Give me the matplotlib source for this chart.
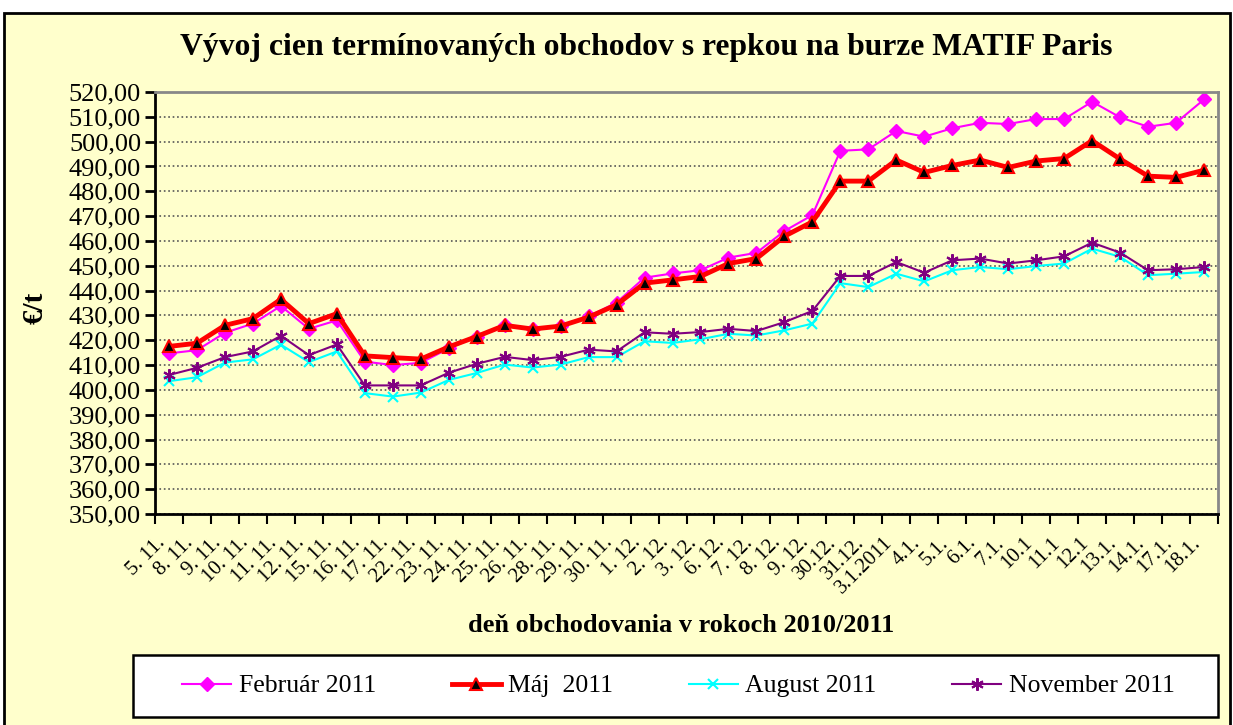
import numpy as np
import matplotlib.pyplot as plt
from matplotlib.patches import Rectangle

plt.rcParams['font.family'] = ['Liberation Serif', 'DejaVu Serif']

# trading days (category labels)
days = ["5. 11.", "8. 11.", "9. 11.", "10. 11.", "11. 11.", "12. 11.", "15. 11.",
        "16. 11.", "17. 11.", "22. 11.", "23. 11.", "24. 11.", "25. 11.", "26. 11.",
        "28. 11.", "29. 11.", "30. 11.", "1. 12.", "2. 12.", "3. 12.", "6. 12.",
        "7. 12.", "8. 12.", "9. 12.", "30.12.", "31.12.", "3.1.2011", "4.1.",
        "5.1.", "6.1.", "7.1.", "10.1", "11.1", "12.1", "13.1.", "14.1.",
        "17.1.", "18.1."]

februar = [414.7, 416.0, 423.0, 426.7, 433.8, 424.6, 428.0, 411.4, 410.0, 410.9,
           416.7, 421.5, 426.0, 424.6, 425.7, 429.6, 435.2, 445.2, 446.9, 448.2,
           453.3, 455.2, 464.0, 470.4, 496.3, 496.9, 504.3, 502.0, 505.4, 507.6,
           507.1, 509.1, 509.1, 516.1, 509.8, 506.0, 507.6, 517.0]

maj = [417.5, 418.8, 426.0, 428.7, 436.5, 426.7, 430.7, 413.7, 413.0, 412.4,
       417.3, 421.5, 426.0, 424.5, 425.7, 429.3, 434.3, 443.0, 444.3, 445.7,
       450.9, 452.9, 461.9, 467.7, 484.1, 484.1, 492.6, 487.6, 490.4, 492.6,
       489.6, 492.2, 493.2, 500.4, 493.0, 486.1, 485.6, 488.5]

august = [403.5, 405.1, 411.0, 412.3, 418.2, 411.2, 415.5, 398.7, 397.3, 398.9,
          404.0, 406.8, 410.2, 409.0, 410.2, 413.2, 413.2, 419.6, 418.9, 420.4,
          422.6, 421.9, 424.0, 426.7, 443.0, 441.4, 446.8, 443.7, 448.2, 449.5,
          448.6, 449.9, 450.9, 456.9, 453.6, 446.2, 446.8, 447.5]

november = [406.0, 408.9, 413.2, 415.5, 421.8, 414.0, 418.3, 401.8, 401.8, 401.8,
            406.9, 410.5, 413.3, 412.0, 413.3, 416.2, 415.5, 423.2, 422.6, 423.3,
            424.6, 423.7, 427.3, 431.8, 445.9, 445.9, 451.5, 447.2, 452.2, 452.9,
            450.9, 452.2, 453.8, 459.3, 455.3, 448.2, 448.6, 449.5]

bg = '#FFFFCC'

fig = plt.figure(figsize=(12.33, 7.25), dpi=100)
fig.patch.set_facecolor('white')
# outer chart frame and legend box
fig.patches.append(Rectangle((4 / 1233, -0.01), 1226 / 1233, 0.992, transform=fig.transFigure,
                             facecolor=bg, edgecolor='black', linewidth=2, zorder=-10))
fig.patches.append(Rectangle((133 / 1233, 8 / 725), 1085 / 1233, 62 / 725, transform=fig.transFigure,
                             facecolor='white', edgecolor='black', linewidth=1.8, zorder=-5))

ax = fig.add_axes([155 / 1233, 1 - 514 / 725, 1063 / 1233, 422 / 725])
ax.set_facecolor(bg)

x = np.arange(len(days))
ax.plot(x, februar, color='#FF00FF', lw=1.5, marker='D', ms=7, mec='#FF00FF',
        mfc='#FF00FF', label='Február 2011')
ax.plot(x, maj, color='#FF0000', lw=3.5, marker='^', ms=9, mfc='black', mec='#FF0000',
        mew=1.5, label='Máj  2011')
ax.plot(x, august, color='#00FFFF', lw=1.5, marker='x', ms=7, mew=1.5,
        label='August 2011')
ax.plot(x, november, color='#800080', lw=1.5, marker=(6, 2, 0), ms=9, mew=1.5,
        label='November 2011')

ax.set_xlim(-0.5, len(days) - 0.5)
ax.set_ylim(350, 520)
yt = np.arange(350, 521, 10)
ax.set_yticks(yt)
ax.set_yticklabels([f"{v:.2f}".replace('.', ',') for v in yt], fontsize=19)
ax.grid(axis='y', color='#555555', linestyle=':', linewidth=1.2)
ax.tick_params(axis='y', direction='out', length=7, width=2, pad=3)

# category labels in the middle, ticks on the boundaries
ax.set_xticks(x)
ax.set_xticklabels(days, rotation=45, ha='right', va='top', fontsize=15)
ax.tick_params(axis='x', which='major', length=0, pad=14)
ax.set_xticks(np.arange(len(days) + 1) - 0.5, minor=True)
ax.tick_params(axis='x', which='minor', direction='out', length=7, width=1.5)

for s in ('left', 'bottom'):
    ax.spines[s].set_linewidth(2)
    ax.spines[s].set_color('black')
for s in ('top', 'right'):
    ax.spines[s].set_linewidth(2)
    ax.spines[s].set_color('#888888')

fig.text(646 / 1233, 1 - 48 / 725, 'Vývoj cien termínovaných obchodov s repkou na burze MATIF Paris',
         ha='center', va='center', fontsize=22.8, fontweight='bold')
fig.text(681 / 1233, 1 - 625 / 725, 'deň obchodovania v rokoch 2010/2011',
         ha='center', va='center', fontsize=18.9, fontweight='bold')
fig.text(35 / 1233, 1 - 308 / 725, '€/t', ha='center', va='center', rotation=90,
         fontsize=21, fontweight='bold')

leg = fig.legend(loc='center', bbox_to_anchor=(172 / 1233, 8 / 725, 1013 / 1233, 62 / 725),
                 ncol=4, mode='expand', borderaxespad=0, fontsize=18.5, frameon=False,
                 handlelength=1.9, handletextpad=0.3)

fig.savefig('out.png', dpi=100)
